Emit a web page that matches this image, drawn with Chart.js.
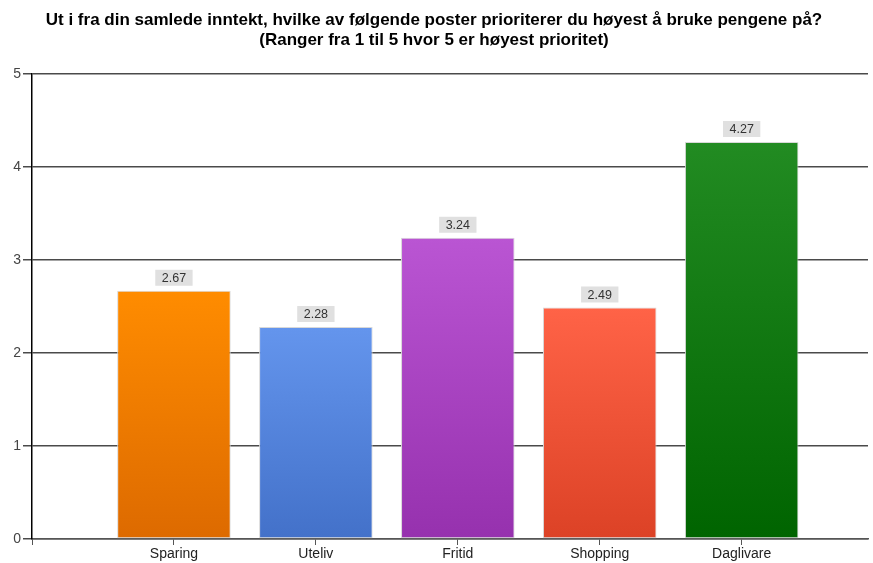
<!DOCTYPE html>
<html>
<head>
<meta charset="utf-8">
<script src="https://cdn.jsdelivr.net/npm/chart.js@4"></script>
<style>
  html, body { margin: 0; padding: 0; background: #fff; }
  #wrap { width: 873px; height: 563px; }
</style>
</head>
<body>
<div id="wrap"><canvas id="chart"></canvas></div>
<script>
// data
const categories = ['Sparing', 'Uteliv', 'Fritid', 'Shopping', 'Daglivare'];
const values = [2.67, 2.28, 3.24, 2.49, 4.27];
const yTicks = [0, 1, 2, 3, 4, 5];
const topColors = ['#ff8c00', '#6495ed', '#ba55d3', '#ff6347', '#228b22'];
const bottomColors = ['#dd6a00', '#4371c9', '#9631ae', '#dc4226', '#006400'];
const titleLines = [
    'Ut i fra din samlede inntekt, hvilke av følgende poster prioriterer du høyest å bruke pengene på?',
    '(Ranger fra 1 til 5 hvor 5 er høyest prioritet)'
];

const ctx = document.getElementById('chart').getContext('2d');

// bar gradient, per bar top -> bottom
function barColor(c) {
    const chart = c.chart;
    const i = c.dataIndex;
    if (!chart.chartArea || !chart.scales.y) return topColors[i];
    const ys = chart.scales.y;
    const g = chart.ctx.createLinearGradient(0, ys.getPixelForValue(values[i]), 0, ys.getPixelForValue(0));
    g.addColorStop(0, topColors[i]);
    g.addColorStop(1, bottomColors[i]);
    return g;
}

// value labels in grey boxes above bars
const valueLabels = {
    id: 'valueLabels',
    afterDatasetsDraw(chart) {
        const c = chart.ctx;
        const meta = chart.getDatasetMeta(0);
        c.save();
        c.font = '12.5px "Liberation Sans", Arial, sans-serif';
        c.textAlign = 'center';
        c.textBaseline = 'middle';
        meta.data.forEach((bar, i) => {
            const txt = values[i].toFixed(2);
            const w = c.measureText(txt).width + 13;
            const h = 16;
            const bottom = bar.y - 5;
            c.fillStyle = '#e0e0e0';
            c.fillRect(bar.x - w / 2, bottom - h, w, h);
            c.fillStyle = '#333';
            c.fillText(txt, bar.x, bottom - h / 2 + 1);
        });
        c.restore();
    }
};

new Chart(ctx, {
    type: 'bar',
    data: {
        datasets: [{
            data: values.map((v, i) => ({ x: i + 1, y: v })),
            backgroundColor: barColor,
            borderColor: '#d8d8d8',
            borderWidth: 1,
            borderSkipped: false,
            barPercentage: 0.8,
            categoryPercentage: 1
        }]
    },
    options: {
        responsive: true,
        maintainAspectRatio: false,
        animation: false,
        layout: { padding: { left: 0, right: 5, top: 10, bottom: 0 } },
        plugins: {
            legend: { display: false },
            tooltip: { enabled: false },
            title: {
                display: true,
                text: titleLines,
                color: '#000',
                font: { family: '"Liberation Sans", Arial, sans-serif', size: 17, weight: 'bold', lineHeight: 1.18 },
                padding: { top: 0, bottom: 24 }
            }
        },
        scales: {
            x: {
                type: 'linear',
                offset: false,
                min: 0,
                max: 5.89,
                grid: { display: true, offset: false, drawOnChartArea: false, drawTicks: true, tickLength: 6, color: '#555', lineWidth: 1 },
                border: { color: '#555', width: 1.5 },
                ticks: {
                    stepSize: 1,
                    includeBounds: false,
                    padding: 1,
                    color: '#222',
                    font: { family: '"Liberation Sans", Arial, sans-serif', size: 14 },
                    callback: (v) => (Number.isInteger(v) && v >= 1 && v <= categories.length) ? categories[v - 1] : ''
                },
                afterFit: (s) => { s.height = 24; }
            },
            y: {
                min: yTicks[0],
                max: yTicks[yTicks.length - 1],
                grid: { color: '#4a4a4a', lineWidth: 1.5, tickLength: 9 },
                border: { color: '#000', width: 1.5 },
                ticks: {
                    stepSize: 1,
                    padding: 2,
                    color: '#444',
                    font: { family: '"Liberation Sans", Arial, sans-serif', size: 14 }
                },
                afterFit: (s) => { s.width = 32; }
            }
        }
    },
    plugins: [valueLabels]
});
</script>
</body>
</html>
